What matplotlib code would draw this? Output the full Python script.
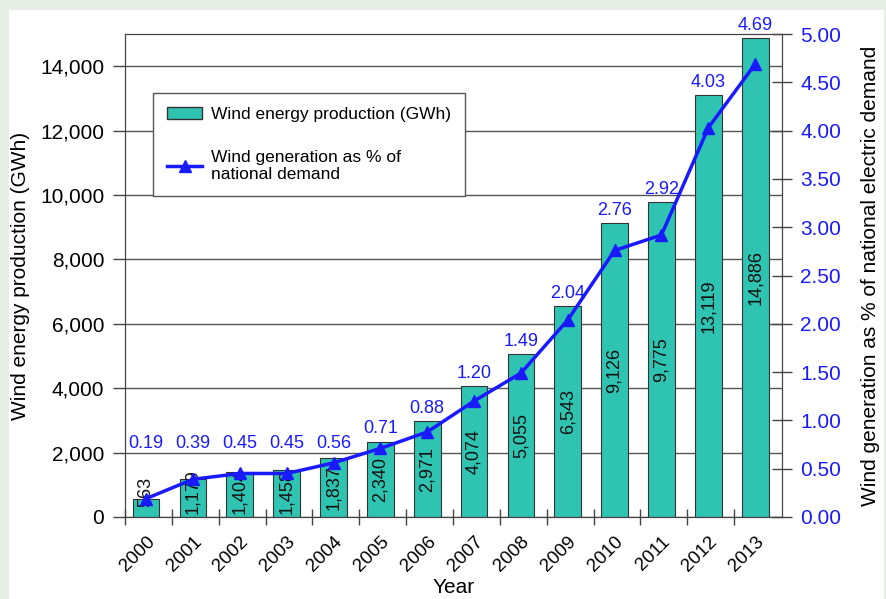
import matplotlib
matplotlib.use('Agg')
import matplotlib.pyplot as plt
from matplotlib.patches import Rectangle
from matplotlib.lines import Line2D
import numpy as np

plt.rcParams['font.family'] = ['Liberation Sans', 'DejaVu Sans']

# data
years = ['2000', '2001', '2002', '2003', '2004', '2005', '2006',
         '2007', '2008', '2009', '2010', '2011', '2012', '2013']
production = [563, 1179, 1404, 1458, 1837, 2340, 2971,
              4074, 5055, 6543, 9126, 9775, 13119, 14886]
percent = [0.19, 0.39, 0.45, 0.45, 0.56, 0.71, 0.88,
           1.20, 1.49, 2.04, 2.76, 2.92, 4.03, 4.69]

bar_color = '#2fc4b2'
line_color = '#1a1aff'

fig = plt.figure(figsize=(8.87, 5.99), dpi=100, facecolor='#e6ede4')
fig.patches.append(Rectangle((9 / 887, 0), 875 / 887, 589 / 599,
                             transform=fig.transFigure, facecolor='white',
                             edgecolor='none', zorder=-10))

ax = fig.add_axes([0.141, 0.137, 0.741, 0.806])
ax.set_facecolor('white')
x = np.arange(len(years))

ax.bar(x, production, width=0.57, color=bar_color, edgecolor='#333333',
       linewidth=0.8, zorder=2)
for xi, v in zip(x, production):
    ax.text(xi, max(v / 2, 780), f'{v:,}', rotation=90, ha='center',
            va='center', fontsize=13, color='#111111', zorder=5)

ax.set_xlim(-0.45, 13.58)
ax.set_ylim(0, 15000)
ax.set_yticks(np.arange(0, 15000, 2000))
ax.set_yticklabels([f'{t:,}' for t in range(0, 15000, 2000)], fontsize=15)
ax.yaxis.grid(True, color='#555555', linewidth=1.0, zorder=0)
ax.set_axisbelow(True)
ax.tick_params(axis='y', direction='out', length=9, width=1, color='#444444',
               pad=6)

ax.set_xticks(x)
ax.set_xticklabels(years, rotation=45, ha='right', rotation_mode='anchor',
                   fontsize=13.5)
ax.tick_params(axis='x', length=0, pad=12)
ax.set_xticks(x - 0.5 + 0.05, minor=True)
ax.tick_params(axis='x', which='minor', direction='inout', length=12,
               width=1, color='#444444')
for s in ax.spines.values():
    s.set_color('#444444')
ax.set_ylabel('Wind energy production (GWh)', fontsize=15, labelpad=7)
ax.set_xlabel('Year', fontsize=15, labelpad=2)

ax2 = ax.twinx()
ax2.plot(x, percent, color=line_color, linewidth=2.5, marker='^',
         markersize=8, zorder=4)
ax2.set_ylim(0, 5)
ax2.set_yticks(np.arange(0, 5.01, 0.5))
ax2.set_yticklabels([f'{t:.2f}' for t in np.arange(0, 5.01, 0.5)],
                    fontsize=15, color=line_color)
ax2.tick_params(axis='y', direction='inout', length=14, width=1,
                color='#444444', pad=6)
for s in ax2.spines.values():
    s.set_color('#444444')
ax2.set_ylabel('Wind generation as % of national electric demand',
               fontsize=15, labelpad=14)

# percentage labels sit just above the bars
for xi, v, p in zip(x, production, percent):
    ax.annotate(f'{p:.2f}', (xi, max(v, 1900)), xytext=(0, 3),
                textcoords='offset points', ha='center', va='bottom',
                fontsize=13, color=line_color, zorder=6)

handles = [Rectangle((0, 0), 1, 1, facecolor=bar_color, edgecolor='#333333'),
           Line2D([], [], color=line_color, linewidth=2.5, marker='^',
                  markersize=8)]
leg = ax2.legend(handles, ['Wind energy production (GWh)',
                           'Wind generation as % of\nnational demand'],
                 loc='upper left', bbox_to_anchor=(0.043, 0.878),
                 borderaxespad=0, fontsize=12.5,
                 fancybox=False, framealpha=1, edgecolor='#555555',
                 labelspacing=1.6, borderpad=0.8, handlelength=2.0,
                 handletextpad=0.5)
leg.get_frame().set_linewidth(1.0)

fig.savefig('out.png', dpi=100, facecolor=fig.get_facecolor())
